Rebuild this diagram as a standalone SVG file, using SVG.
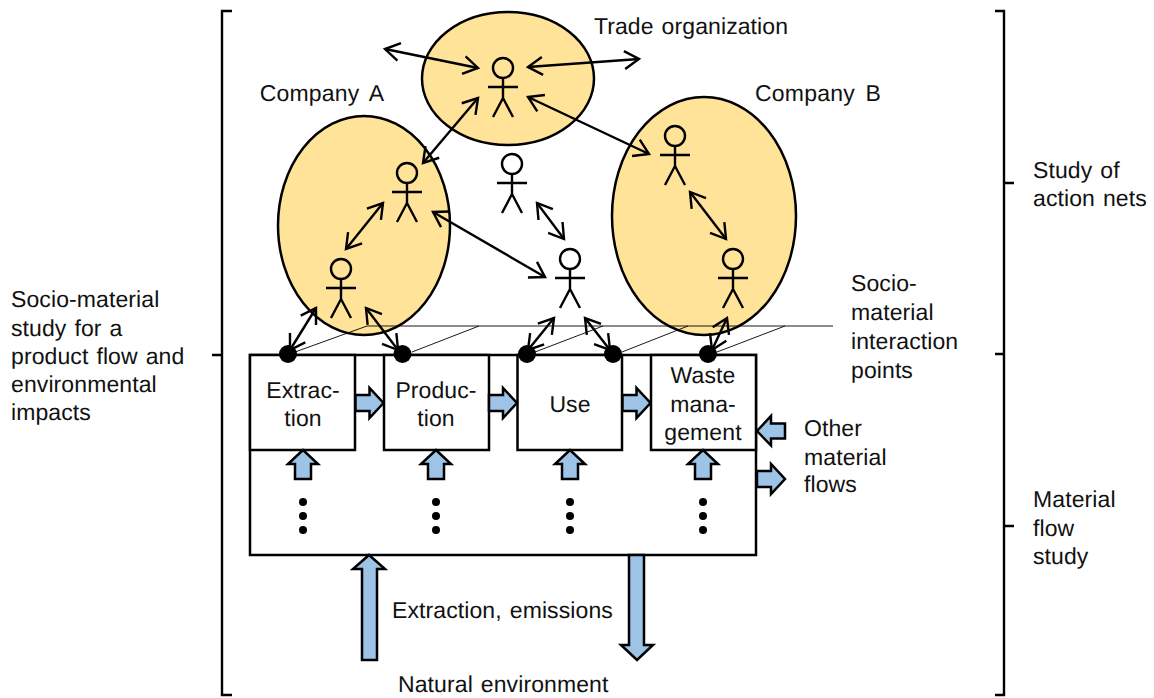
<svg xmlns="http://www.w3.org/2000/svg" xmlns:xlink="http://www.w3.org/1999/xlink" width="1154" height="698" viewBox="0 0 1154 698">
<style>
text{font-family:"Liberation Sans",Arial,sans-serif;font-size:23px;letter-spacing:.1px;word-spacing:1.5px;fill:#111;text-rendering:geometricPrecision;transform:translateY(.7px)}
.c{text-anchor:middle}
.wide{word-spacing:4px;letter-spacing:.2px}
.org{fill:#FFE399;stroke:#000;stroke-width:2.5}
.box{fill:#fff;stroke:#000;stroke-width:2.5}
.flow{fill:#9DC3E6;stroke:#000;stroke-width:2.5}
.thin{fill:none;stroke:#000;stroke-width:.9}
.arr{fill:none;stroke:#000;stroke-width:2.4;marker-start:url(#oa);marker-end:url(#oa)}
.br{fill:none;stroke:#000;stroke-width:2.4}
.actor{fill:none;stroke:#000;stroke-width:2.4}
</style>
<defs>
<marker id="oa" markerUnits="userSpaceOnUse" markerWidth="26" markerHeight="26" refX="18" refY="13" orient="auto-start-reverse"><path d="M3.500,4 L18,13 L3.500,22" fill="none" stroke="#000" stroke-width="2.400"/></marker>
<g id="actor" class="actor"><circle cx="0" cy="0" r="10"/><path d="M0,10V30M-15,19H15M-10,49L0,30L10,49"/></g>
<path id="fr" class="flow" d="M0,-8H14V-15L28,0L14,15V8H0Z"/>
<path id="fu" class="flow" d="M-8,29V14H-15L0,0L15,14H8V29Z"/>
<g id="vd"><circle cy="0" r="4"/><circle cy="14" r="4"/><circle cy="28" r="4"/></g>
</defs>
<g id="org-a"><ellipse class="org" cx="364" cy="225.500" rx="86" ry="109.500"/><text x="322" y="100" class="c wide">Company A</text></g>
<g id="org-b"><ellipse class="org" cx="704" cy="216" rx="92" ry="119"/><text x="818" y="100" class="c wide">Company B</text></g>
<g id="org-trade"><ellipse class="org" cx="508" cy="78.500" rx="86" ry="66.500"/><text x="691" y="33" class="c">Trade organization</text></g>
<g id="interaction-plane">
<path class="thin" d="M367,326H833M295,352L367,326M412,352L479,326M535,352L603,326M622,352L688,326M717,352L785,326"/>
<text x="851" y="290">Socio-</text><text x="851" y="319">material</text><text x="851" y="348">interaction</text><text x="851" y="377">points</text>
</g>
<g id="material-frame"><rect class="box" x="250" y="355" width="506" height="200"/></g>
<g id="extraction"><rect class="box" x="250" y="355" width="105" height="95"/><text x="303" y="397" class="c">Extrac-</text><text x="303" y="425" class="c">tion</text></g>
<g id="production"><rect class="box" x="384" y="355" width="105" height="95"/><text x="436" y="397" class="c">Produc-</text><text x="436" y="425" class="c">tion</text></g>
<g id="use"><rect class="box" x="517.500" y="355" width="104.500" height="95"/><text x="570" y="411" class="c">Use</text></g>
<g id="waste"><rect class="box" x="651" y="355" width="105" height="95"/><text x="703" y="382" class="c">Waste</text><text x="703" y="411" class="c">mana-</text><text x="703" y="439" class="c">gement</text></g>
<g id="actors">
<use xlink:href="#actor" href="#actor" x="503" y="68"/>
<use xlink:href="#actor" href="#actor" x="407" y="173"/>
<use xlink:href="#actor" href="#actor" x="341" y="269"/>
<use xlink:href="#actor" href="#actor" x="512" y="164"/>
<use xlink:href="#actor" href="#actor" x="570" y="259"/>
<use xlink:href="#actor" href="#actor" x="675" y="136"/>
<use xlink:href="#actor" href="#actor" x="733" y="259"/>
</g>
<g id="connectors">
<path class="arr" d="M385,49L478,68"/>
<path class="arr" d="M528,67L639,59"/>
<path class="arr" d="M478,98L423,163"/>
<path class="arr" d="M528,97L649,154"/>
<path class="arr" d="M383,203L346,249"/>
<path class="arr" d="M433,212L545,277"/>
<path class="arr" d="M537,203L564,239"/>
<path class="arr" d="M690,192L726,239"/>
<path class="arr" d="M316,308L290,350"/>
<path class="arr" d="M366,308L398,350"/>
<path class="arr" d="M554,318L528,350"/>
<path class="arr" d="M585,318L610,350"/>
<path class="arr" d="M727,318L712,350"/>
</g>
<g id="interaction-points">
<circle cx="288" cy="354" r="9"/><circle cx="402.500" cy="354" r="9"/><circle cx="527" cy="354" r="9"/><circle cx="613" cy="354" r="9"/><circle cx="708" cy="354" r="9"/>
</g>
<g id="material-flows">
<use xlink:href="#fr" href="#fr" x="355.500" y="403"/>
<use xlink:href="#fr" href="#fr" x="489" y="403"/>
<use xlink:href="#fr" href="#fr" x="622.500" y="403"/>
<use xlink:href="#fu" href="#fu" x="303" y="450"/>
<use xlink:href="#fu" href="#fu" x="436" y="450"/>
<use xlink:href="#fu" href="#fu" x="570" y="450"/>
<use xlink:href="#fu" href="#fu" x="703" y="450"/>
<path class="flow" d="M785,423.500H771V416L757,431L771,445.500V438.500H785Z"/>
<use xlink:href="#fr" href="#fr" x="757" y="479"/>
<path class="flow" d="M362,660V569H353L369,555L385,569H377V660Z"/>
<path class="flow" d="M629,555V645H621L637,660L653,645H644V555Z"/>
</g>
<g id="ellipses">
<use xlink:href="#vd" href="#vd" x="303" y="502"/>
<use xlink:href="#vd" href="#vd" x="436" y="502"/>
<use xlink:href="#vd" href="#vd" x="570" y="502"/>
<use xlink:href="#vd" href="#vd" x="703" y="502"/>
</g>
<g id="labels">
<text x="804" y="435">Other</text><text x="804" y="464">material</text><text x="804" y="491">flows</text>
<text x="392" y="617">Extraction, emissions</text>
<text x="398" y="691">Natural environment</text>
<text x="11" y="306">Socio-material</text><text x="11" y="335">study for a</text><text x="11" y="363">product flow and</text><text x="11" y="391">environmental</text><text x="11" y="419">impacts</text>
<text x="1033" y="177">Study of</text><text x="1033" y="205">action nets</text>
<text x="1033" y="506">Material</text><text x="1033" y="535">flow</text><text x="1033" y="563">study</text>
</g>
<g id="brackets">
<path class="br" d="M232,11H222V695H232M222,355H212"/>
<path class="br" d="M995,11H1004V695H995M995,354H1004M1004,183H1014M1004,526H1014"/>
</g>
</svg>
